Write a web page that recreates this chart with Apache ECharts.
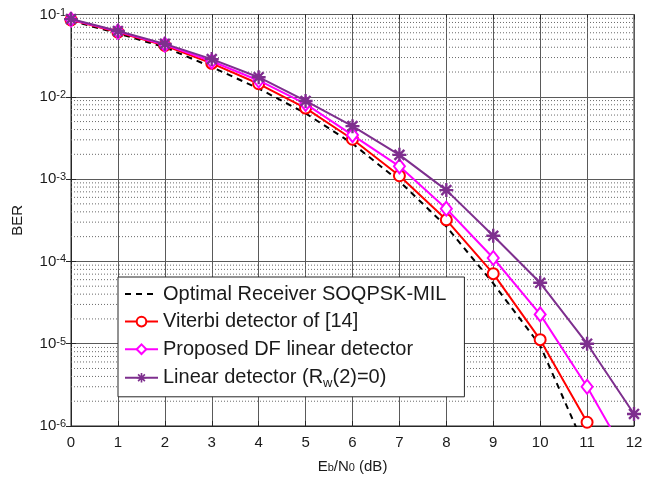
<!DOCTYPE html>
<html><head><meta charset="utf-8">
<script src="https://cdn.jsdelivr.net/npm/echarts@6/dist/echarts.min.js"></script>
<style>html,body{margin:0;padding:0;background:#fff}#c{width:661px;height:479px}</style>
</head><body><div id="c"></div>
<script>
const xVals = [0,1,2,3,4,5,6,7,8,9,10,11,12];
const optimal = [0.084,0.059,0.040,0.023,0.0126,0.0063,0.0027,0.00094,0.000266,5.4e-5,9.5e-6,4.8e-7];
const viterbi = [0.086,0.061,0.042,0.0255,0.0144,0.0073,0.00305,0.0011,0.00032,7.1e-5,1.12e-5,1.11e-6];
const proposed = [0.087,0.062,0.043,0.027,0.0158,0.0082,0.00343,0.00143,0.000437,0.00011,2.27e-5,3.0e-6,3.0e-7];
const linear = [0.088,0.063,0.044,0.0287,0.0173,0.0089,0.0044,0.00197,0.000735,0.000205,5.5e-5,1.0e-5,1.4e-6];
const names = ['Optimal Receiver SOQPSK-MIL','Viterbi detector of [14]','Proposed DF linear detector','Linear detector (R_w(2)=0)'];
const minorGrid = [];
[1e-6,1e-5,1e-4,1e-3,1e-2].forEach(d=>{for(let k=2;k<=9;k++) minorGrid.push(+(d*k).toPrecision(3));});

const FONT = 'Liberation Sans, Arial, Helvetica, sans-serif';
const pair = arr => arr.map((v,i)=>[xVals[i], v]);
const t = 0.17;
function rot(x,y,a){const cs=Math.cos(a), sn=Math.sin(a);return (x*cs-y*sn).toFixed(3)+','+(x*sn+y*cs).toFixed(3);}
let starPath = 'path://';
[0,Math.PI/4,Math.PI/2,3*Math.PI/4].forEach(a=>{
  starPath += 'M'+rot(-1,-t,a)+'L'+rot(1,-t,a)+'L'+rot(1,t,a)+'L'+rot(-1,t,a)+'Z';
});

const chart = echarts.init(document.getElementById('c'), null, {renderer:'canvas'});
const axisCol = '#262626';
const txt = '#1a1a1a';
const minorSeries = minorGrid.map(v=>({
  type:'line', name:'_m'+v, data:[[0,v],[12,v]], symbol:'none', silent:true, z:1,
  lineStyle:{type:[1,2],color:'#6a6a6a',width:1}, animation:false, emphasis:{disabled:true}
}));
chart.setOption({
  backgroundColor:'#fff',
  animation:false,
  textStyle:{fontFamily:FONT},
  grid:{left:71,right:27,top:10,bottom:53,show:true,borderColor:axisCol,borderWidth:1,backgroundColor:'transparent'},
  legend:{
    data:[{name:names[0],itemStyle:{opacity:0}},names[1],names[2],names[3]],
    orient:'vertical', left:118, top:277, z:10,
    backgroundColor:'#fff', borderColor:axisCol, borderWidth:1,
    padding:[6,18,7,6], itemGap:5.6, itemWidth:33, itemHeight:12,
    textStyle:{fontSize:20,color:txt,fontFamily:FONT,lineHeight:22,
      rich:{a:{fontSize:20,color:txt,lineHeight:22,fontFamily:FONT},
            s:{fontSize:13,color:txt,lineHeight:11,padding:[11,0,0,0],fontFamily:FONT}}},
    formatter: n => n.indexOf('R_w')>=0 ? '{a|Linear detector (R}{s|w}{a|(2)=0)}' : '{a|'+n+'}'
  },
  xAxis:[{
    type:'value', min:0, max:12, interval:1,
    name:'{a|E}{s|b}{a|/N}{s|0}{a| (dB)}', nameLocation:'middle', nameGap:31,
    nameTextStyle:{color:txt,rich:{a:{fontSize:15,color:txt,verticalAlign:'top',lineHeight:15,fontFamily:FONT},
      s:{fontSize:11,color:txt,verticalAlign:'bottom',lineHeight:11,padding:[8,0,0,0],fontFamily:FONT}}},
    axisLine:{lineStyle:{color:axisCol}}, axisTick:{inside:true,length:5,lineStyle:{color:axisCol}},
    axisLabel:{fontSize:15,color:txt,margin:9,fontFamily:FONT},
    splitLine:{show:true,lineStyle:{color:'#5a5a5a',width:1}}
  },{
    type:'value', min:0, max:12, interval:1, position:'top',
    axisLine:{show:false}, axisTick:{inside:true,length:5,lineStyle:{color:axisCol}}, axisLabel:{show:false}, splitLine:{show:false}
  }],
  yAxis:[{
    type:'log', logBase:10, min:1e-6, max:1e-1,
    name:'BER', nameLocation:'middle', nameGap:46,
    nameTextStyle:{fontSize:15,color:txt,fontFamily:FONT},
    axisLine:{show:true,lineStyle:{color:axisCol}}, axisTick:{show:true,inside:true,length:5,lineStyle:{color:axisCol}},
    axisLabel:{margin:5,color:txt,
      formatter: v => '{b|10}{e|' + Math.round(Math.log10(v)) + '}',
      rich:{b:{fontSize:15,color:txt,verticalAlign:'bottom',lineHeight:15,padding:[7,0,0,0],fontFamily:FONT},
            e:{fontSize:11,color:txt,verticalAlign:'top',lineHeight:11,padding:[0,0,11,0],fontFamily:FONT}}},
    splitLine:{show:true,lineStyle:{color:'#5a5a5a',width:1}}
  },{
    type:'log', logBase:10, min:1e-6, max:1e-1, position:'right',
    axisLine:{show:false}, axisTick:{show:true,inside:true,length:5,lineStyle:{color:axisCol}}, axisLabel:{show:false}, splitLine:{show:false}
  }],
  series: minorSeries.concat([
    {type:'line', name:names[0], data:pair(optimal), showSymbol:false, symbol:'none', clip:true, z:3,
     lineStyle:{color:'#000',width:2,type:[6,5]}, itemStyle:{color:'#000'}},
    {type:'line', name:names[1], data:pair(viterbi), symbol:'emptyCircle', symbolSize:11, clip:true, z:4,
     lineStyle:{color:'#ff0000',width:2}, itemStyle:{color:'#ff0000',borderColor:'#ff0000',borderWidth:2}},
    {type:'line', name:names[2], data:pair(proposed), symbol:'emptyDiamond', symbolSize:[11,14], clip:true, z:5,
     lineStyle:{color:'#ff00ff',width:2}, itemStyle:{color:'#ff00ff',borderColor:'#ff00ff',borderWidth:2}},
    {type:'line', name:names[3], data:pair(linear), symbol:starPath, symbolSize:14, clip:true, z:6,
     lineStyle:{color:'#7e2f8e',width:2}, itemStyle:{color:'#7e2f8e'}}
  ])
});
</script></body></html>
